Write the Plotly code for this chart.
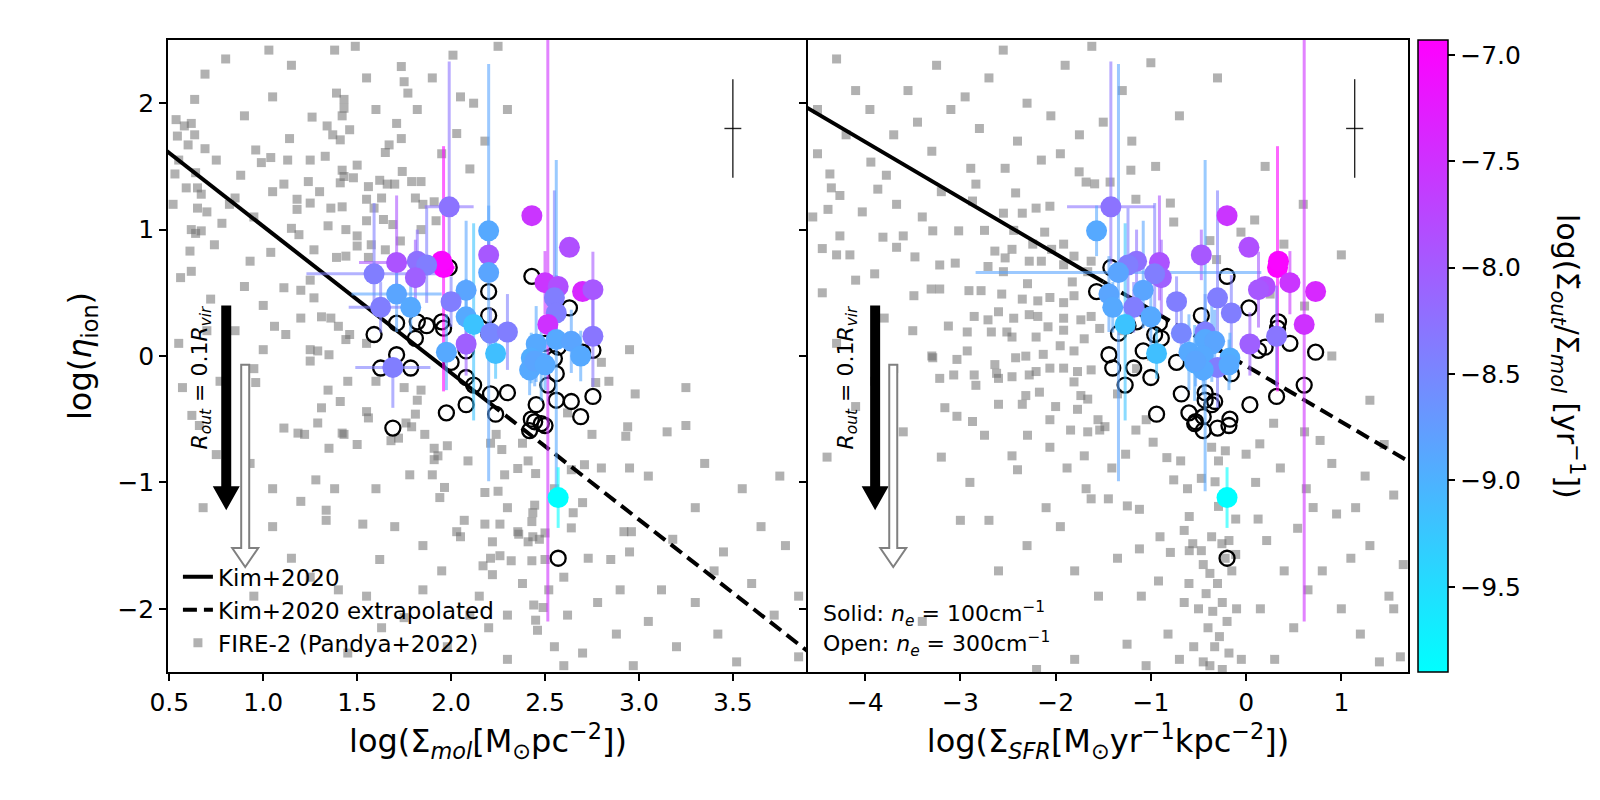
import plotly.graph_objects as go
from plotly.subplots import make_subplots

# ---- colour scale limits (cool colormap) ----
c_min, c_max = -9.9, -6.93

# ---- observed regions: same y for both panels ----
pt_mol_x = [1.99, 2.43, 2.20, 2.63, 2.20, 1.96, 1.95, 1.71, 1.82, 1.87, 1.81, 1.59, 2.20, 2.50, 2.57,
            2.70, 2.755, 1.71, 2.08, 2.00, 2.55, 2.56, 1.625, 1.785, 2.08, 2.12, 2.515, 2.21, 2.30, 2.755,
            2.08, 1.975, 2.237, 2.453, 2.56, 2.64, 2.69, 2.427, 2.48, 1.69, 2.418, 2.445, 2.50, 2.57]
pt_sfr_x = [-1.42, -0.20, -1.57, 0.03, -0.47, 0.33, 0.34, -0.91, -1.15, -1.24, -0.89, -0.96, -1.34, 0.46, 0.20,
            0.73, 0.13, -1.44, -1.08, -0.73, -0.30, -0.155, -1.18, -1.40, -1.00, -1.27, 0.61, -0.68, -0.43, 0.32,
            0.04, -0.60, -0.94, -0.36, -0.43, -0.33, -0.45, -0.17, -0.54, -0.30, -0.45, -0.53, -0.18, -0.20]
pt_y = [1.18, 1.11, 0.99, 0.86, 0.80, 0.70, 0.75, 0.74, 0.75, 0.72, 0.62, 0.65, 0.66, 0.58, 0.55,
        0.51, 0.525, 0.49, 0.52, 0.43, 0.46, 0.34, 0.385, 0.385, 0.31, 0.25, 0.25, 0.18, 0.19, 0.156,
        0.095, 0.03, 0.02, 0.095, 0.13, 0.116, 0.0, -0.016, -0.055, -0.09, -0.11, -0.04, -0.07, -1.12]
pt_c = [-8.27, -7.55, -8.9, -7.85, -7.95, -6.95, -7.0, -7.9, -8.25, -8.4, -8.05, -8.4, -8.85, -7.55, -7.85,
        -7.4, -7.95, -8.85, -8.85, -8.4, -8.4, -8.4, -8.4, -8.9, -8.9, -9.2, -7.5, -8.5, -8.4, -8.3,
        -8.05, -8.9, -9.15, -8.9, -8.9, -8.85, -8.9, -8.95, -8.95, -8.4, -8.9, -8.85, -8.9, -9.9]
pt_ey_up = [1.15, 0, 0.2, 0, 0.2, 0.96, 0, 0.53, 0.25, 0.45, 0.3, 0.56, 1.65, 0.25, 0,
            0, 0.3, 0.3, 0.55, 0.2, 0.85, 0.3, 0.2, 0.2, 0.3, 0.8, 2.25, 0.2, 0.3, 0.4,
            0.25, 0.3, 0.2, 0.3, 1.42, 0.25, 0.2, 0.2, 0.3, 0.0, 0.2, 0.2, 0.2, 0.24]
pt_ey_dn = [0.45, 0, 0.2, 0, 0.2, 0.98, 0, 0.3, 0.2, 0.3, 0.3, 0.3, 1.65, 0.25, 0,
            0, 0.3, 0.3, 0.3, 0.2, 0.3, 0.3, 0.2, 0.2, 0.3, 0.76, 2.35, 0.2, 0.3, 0.4,
            0.25, 0.3, 0.2, 0.3, 1.2, 0.25, 0.2, 0.2, 0.3, 0.32, 0.2, 0.2, 0.2, 0.24]
pt_ex_mol = [0.13, 0, 0, 0, 0.05, 0.06, 0, 0.2, 0, 0, 0, 0.36, 0, 0, 0,
             0, 0, 0.24, 0, 0, 0, 0, 0.17, 0, 0, 0, 0, 0, 0, 0,
             0, 0, 0, 0, 0, 0, 0, 0, 0, 0.2, 0, 0, 0, 0]
pt_ex_sfr = [0.46, 0, 0, 0, 0, 0, 0, 0, 0, 0, 0, 0, 1.5, 0, 0,
             0, 0, 0, 0, 0, 0, 0, 0, 0, 0, 0, 0, 0, 0, 0,
             0, 0, 0, 0, 0, 0, 0, 0, 0, 0, 0, 0, 0, 0]
# open circles (n_e = 300 cm^-1)
open_y = [0.70, 0.63, 0.51, 0.38, 0.32, 0.22, 0.27, 0.26, 0.27, 0.24, 0.14, 0.17, 0.18, 0.10, 0.07,
          0.03, 0.045, 0.01, 0.04, -0.05, -0.02, -0.14, -0.095, -0.095, -0.17, -0.23, -0.23, -0.30, -0.29, -0.32,
          -0.385, -0.45, -0.46, -0.385, -0.35, -0.36, -0.48, -0.50, -0.535, -0.57, -0.59, -0.52, -0.55, -1.60]

# ---- Kim+2020 relations ----
kim_mol_x = [0.40, 2.20]
kim_mol_y = [1.722, -0.366]
kim_mol_ext_x = [2.20, 4.00]
kim_mol_ext_y = [-0.366, -2.454]
kim_sfr_x = [-4.70, -1.50]
kim_sfr_y = [2.004, 0.587]
kim_sfr_ext_x = [-1.50, 1.80]
kim_sfr_ext_y = [0.587, -0.875]

# representative error bar (top right of each panel)
rep_mol = dict(x=[3.5], y=[1.8], ex=[0.045], ey_up=[0.39], ey_dn=[0.39])
rep_sfr = dict(x=[1.14], y=[1.8], ex=[0.09], ey_up=[0.39], ey_dn=[0.39])

# ---- FIRE-2 (Pandya+2022) ----
fire_mol_pts = [
    (0.69, 2.23), (0.635, 2.03), (0.536, 1.87), (0.58, 1.82), (0.617, 1.84), (0.543, 1.74), (0.635, 1.75),
    (0.60, 1.67), (0.69, 1.64), (0.53, 1.44), (0.64, 1.45), (0.59, 1.33), (0.65, 1.33), (0.67, 1.28),
    (0.65, 1.17), (0.70, 1.14), (0.617, 1.0), (0.67, 0.99), (0.64, 0.97), (0.74, 0.88), (0.61, 0.83),
    (0.617, 0.67), (1.03, 2.42), (1.05, 2.05), (1.38, 2.42), (1.49, 2.45), (1.39, 2.08), (1.43, 2.03),
    (1.43, 1.96), (1.42, 1.90), (1.26, 1.89), (1.34, 1.82), (1.37, 1.75), (1.41, 1.71), (1.46, 1.79),
    (1.14, 1.72), (0.96, 1.63), (1.04, 1.57), (0.99, 1.53), (0.88, 1.43), (1.13, 1.55), (1.25, 1.55),
    (1.33, 1.58), (1.42, 1.47), (1.50, 1.51), (1.43, 1.42), (1.48, 1.41), (1.41, 1.37), (1.24, 1.38),
    (1.11, 1.36), (1.30, 1.30), (1.18, 1.24), (1.18, 1.16), (1.25, 1.21), (1.345, 1.03), (1.15, 1.01),
    (1.19, 0.96), (1.44, 1.0), (1.36, 1.17), (1.42, 1.18), (1.27, 0.84), (1.39, 0.78), (1.44, 0.79),
    (1.04, 0.82), (0.93, 0.75), (1.50, 0.95), (1.56, 1.34), (1.62, 1.39), (1.66, 1.36), (1.70, 1.36),
    (1.65, 1.61), (1.67, 1.67), (1.735, 1.72), (1.74, 1.46), (1.79, 1.38), (1.84, 1.38), (1.71, 1.84),
    (1.735, 2.29), (1.75, 2.17), (1.77, 2.08), (1.82, 1.95), (2.03, 1.76), (2.01, 2.38), (2.12, 2.0),
    (2.18, 1.70), (1.55, 1.24), (1.63, 1.25), (1.59, 1.17), (1.55, 1.07), (1.64, 1.08), (1.69, 1.04),
    (1.81, 1.25), (1.85, 1.20), (1.91, 1.22), (1.92, 1.07), (1.84, 1.0), (1.575, 0.88), (1.50, 0.87),
    (1.56, 0.78), (1.65, 0.84), (1.73, 0.91),
    (1.11, 0.54), (1.20, 0.52), (1.25, 0.60), (1.27, 0.46), (1.06, 0.235), (1.12, 0.17), (0.77, -0.2),
    (0.96, -0.21), (0.95, -0.1), (1.25, 0.05), (1.29, 0.04), (1.25, -0.04), (1.35, 0.01), (1.36, 0.30),
    (1.40, 0.235), (1.44, 0.13), (1.46, 0.17), (1.31, 0.31), (1.31, -0.41), (1.345, -0.27), (1.45, -0.20),
    (1.41, -0.36), (1.55, -0.44), (1.56, -0.49), (1.11, -0.57), (1.185, -0.61), (1.35, -0.73), (1.42, -0.61),
    (1.29, -0.53), (1.76, -0.53), (1.79, -0.56), (1.81, -0.46), (1.84, -0.27), (1.75, -0.25), (1.82, -0.35),
    (1.86, -0.62), (1.72, -0.65), (1.68, -0.67), (1.91, -0.73), (1.98, -0.71), (1.93, -0.79), (2.09, -0.83),
    (2.24, -0.62), (2.21, -0.69), (2.27, -0.74), (2.38, -0.69), (2.355, -0.89), (2.45, -0.93), (2.64, -0.90),
    (2.71, -0.86), (2.80, -0.886), (2.84, -0.20), (2.77, -0.21), (2.94, -0.56), (2.93, -0.635), (2.95, -0.886),
    (2.92, -1.39), (2.96, -1.39), (2.95, -1.55), (2.85, -1.61), (2.73, -1.60), (2.70, -1.16), (2.65, -1.24),
    (2.64, -1.36), (2.445, -1.18), (2.435, -1.24), (2.43, -1.31), (2.435, -1.43), (2.50, -1.40), (2.47, -1.45),
    (2.41, -1.47), (2.355, -1.39), (2.22, -1.47), (2.26, -1.33), (2.18, -1.33), (2.07, -1.30), (2.03, -1.39),
    (1.94, -1.12), (1.965, -1.04), (1.91, -0.82), (2.18, -1.08), (2.25, -1.07), (2.285, -0.94), (2.41, -0.83),
    (1.78, -0.94), (1.90, -0.94), (1.53, -1.33), (1.335, -1.22), (1.335, -1.30), (1.62, -1.61), (1.43, -0.62),
    (1.22, -0.62), (1.50, -0.70),
    (2.05, -1.43), (2.21, -1.60), (2.26, -1.58), (2.17, -1.66), (2.32, -1.62), (2.22, -1.73), (2.36, -1.41),
    (2.44, -1.97), (2.45, -2.09), (2.46, -2.17), (2.49, -1.99), (1.75, -2.07), (1.63, -2.15), (2.5, -1.61),
    (2.43, -1.62),
    (0.57, -0.25), (0.66, -0.55), (0.93, -0.85), (1.05, -1.05), (1.2, -1.15), (1.28, -0.98), (1.25, -1.75),
    (1.4, -1.85), (1.55, -1.9), (1.85, -1.85), (1.98, -2.3), (2.1, -2.05), (2.2, -2.15), (2.3, -2.4),
    (2.38, -1.8), (2.52, -1.85), (2.55, -2.3), (2.62, -2.05), (2.7, -2.35), (2.78, -1.95), (2.88, -2.2),
    (2.97, -2.45), (3.05, -2.1), (3.12, -1.85), (3.2, -2.3), (3.3, -1.95), (3.42, -2.2), (3.52, -2.42),
    (3.6, -1.8), (3.72, -2.05), (3.85, -2.38), (3.78, -1.5), (3.65, -1.35), (3.45, -1.55), (3.3, -1.2),
    (3.18, -1.45), (3.05, -0.95), (3.15, -0.6), (3.35, -0.85), (2.98, -0.3), (3.25, -0.25), (2.62, -0.45),
    (2.75, -0.62), (0.72, 0.45), (0.85, 0.2), (0.55, 0.1), (1.0, 0.4), (0.78, 1.05), (0.85, 1.25), (0.56, 0.62),
    (1.15, 2.3), (1.55, 2.2), (1.6, 1.95), (1.9, 2.2), (2.05, 2.05), (2.25, 2.45), (2.3, 1.95), (1.95, 1.6),
    (2.1, 1.48), (0.8, 2.35), (0.9, 1.9), (0.75, 1.55), (0.82, 1.2), (0.95, 1.1), (1.05, 1.3), (0.55, 1.55),
    (0.52, 1.2), (0.9, 0.55), (0.7, 0.2), (0.62, -0.47), (0.75, -0.78), (1.05, -1.35), (1.15, -1.6),
    (0.95, -1.9), (0.68, -1.2), (1.38, -1.05), (1.6, -1.05), (1.7, -1.35), (1.85, -1.5), (1.95, -1.7),
    (2.15, -1.9), (2.3, -2.05), (2.6, -1.75), (2.9, -1.85), (3.4, -1.7), (3.55, -1.05), (3.75, -0.95),
    (3.25, -0.55), (2.95, 0.05), (2.8, -0.05), (1.6, -0.2), (1.55, 0.1), (1.2, 0.3), (1.0, 0.05),
    (2.3, -1.2), (2.55, -1.05), (2.6, -2.45), (1.45, -2.35), (3.85, -1.9),
]
fire_sfr_pts = [
    (-3.94, 1.534), (-4.37, 1.44), (-4.355, 1.33), (-4.265, 1.27), (-4.39, 1.16), (-4.03, 1.14), (-3.777, 1.43),
    (-3.867, 1.32), (-3.67, 1.20), (-3.813, 0.94), (-3.67, 0.86), (-4.265, 0.95), (-4.30, 0.80), (-4.16, 0.80),
    (-3.477, 0.784), (-3.29, 0.99), (-3.018, 0.99), (-3.217, 0.72), (-3.054, 0.735), (-3.307, 0.53),
    (-3.488, 0.477), (-3.217, 0.53), (-3.126, 0.237), (-2.91, 0.517), (-2.873, 1.226), (-2.837, 1.36),
    (-2.891, 1.485), (-2.53, 1.485), (-2.548, 1.13), (-2.42, 1.29), (-2.35, 1.13), (-2.44, 0.994),
    (-2.747, 0.994), (-2.638, 0.83), (-2.458, 0.844), (-2.53, 0.776), (-2.277, 0.75), (-2.15, 0.75),
    (-2.24, 0.885), (-2.71, 0.708), (-2.548, 0.667), (-2.783, 0.517), (-2.566, 0.49), (-2.295, 0.572),
    (-2.187, 0.436), (-2.06, 0.463), (-1.916, 0.422), (-1.807, 0.477), (-1.825, 0.586), (-1.916, 0.722),
    (-2.042, 0.844), (-2.115, 0.98), (-1.916, 0.885), (-1.807, 0.79), (-1.663, 0.667), (-1.627, 0.75),
    (-2.205, 1.17), (-2.06, 1.185), (-1.753, 1.457), (-1.68, 1.376), (-1.59, 1.362), (-1.428, 1.376),
    (-1.21, 1.47), (-1.157, 1.24), (-0.795, 1.21), (-0.76, 1.06), (-0.38, 0.913), (-0.31, 0.763),
    (-2.855, 0.313), (-2.71, 0.286), (-2.675, 0.19), (-2.928, 0.19), (-2.512, 0.19), (-2.44, 0.299),
    (-2.277, 0.327), (-2.187, 0.313), (-2.458, 0.15), (-2.205, 0.15), (-2.08, 0.231), (-1.916, 0.299),
    (-1.916, 0.204), (-1.735, 0.286), (-1.7, 0.136), (-1.627, 0.313), (-1.537, 0.218), (-1.807, 0.04),
    (-1.952, 0.081), (-2.13, 0.013), (-2.313, -0.001), (-2.42, -0.014), (-2.638, -0.068), (-2.62, -0.137),
    (-2.855, -0.15), (-3.07, -0.15), (-3.217, -0.177), (-3.29, -0.014), (-3.036, -0.027), (-2.928, 0.04),
    (-2.6, -0.177), (-2.458, -0.164), (-2.277, -0.15), (-2.205, -0.123), (-2.06, -0.096), (-1.916, -0.096),
    (-1.77, -0.123), (-1.627, -0.11), (-1.735, -0.313), (-1.663, -0.341), (-1.77, -0.422), (-1.843, -0.586),
    (-1.663, -0.6), (-1.555, -0.504), (-1.537, -0.586), (-1.807, -0.205), (-2.17, -0.286), (-2.313, -0.313),
    (-2.35, -0.382), (-2.6, -0.382), (-2.837, -0.232), (-3.163, -0.409), (-3.036, -0.477), (-2.873, -0.518),
    (-2.747, -0.627), (-2.458, -0.79), (-2.295, -0.627), (-2.06, -0.504), (-1.699, -0.79), (-1.88, -0.886),
    (-2.06, -0.722), (-1.68, -1.05), (-1.627, -1.13), (-1.41, -0.886), (-1.265, -0.777), (-1.157, -0.586),
    (-0.976, -0.682), (-1.049, -0.504), (-0.832, -0.804), (-0.76, -0.98), (-0.615, -1.05), (-0.597, -1.27),
    (-0.65, -1.38), (-0.56, -1.485), (-0.47, -1.54), (-0.597, -1.54), (-0.362, -1.43), (-0.254, -1.485),
    (-0.18, -1.46), (-0.109, -1.29), (-0.29, -1.19), (-0.326, -0.995), (-0.29, -0.83), (-0.362, -0.722),
    (-0.218, -0.75), (-0.47, -0.968), (-0.687, -0.83), (-1.12, -1.213), (-0.904, -1.43), (-1.12, -1.526),
    (-0.795, -1.554), (0.0, -0.777), (0.144, -0.695), (0.289, -0.532), (0.36, -0.886), (0.541, -1.363),
    (0.704, -1.199), (0.632, -1.05), (0.777, -0.668), (0.614, -0.6), (0.126, -1.29), (0.216, -1.46),
    (-0.109, -1.57), (0.09, 1.076), (-0.054, 0.98), (0.397, 0.885), (0.253, 0.49), (0.614, 0.395),
    (-1.446, -1.13), (-1.247, -1.186), (-1.482, -0.559), (-0.994, -0.001),
    (-0.45, -1.65), (-0.38, -1.72), (-0.3, -1.8), (-0.42, -1.88), (-0.25, -1.95), (-0.35, -2.02), (-0.2, -2.1),
    (-0.4, -2.15), (-0.28, -2.22), (-0.33, -2.3), (-0.18, -2.35), (-0.45, -2.42), (-0.25, -2.48), (-0.5, -2.0),
    (-0.15, -1.7), (-0.6, -1.8), (-0.55, -2.3), (-0.1, -2.0), (-0.05, -2.4),
    (-1.55, -1.9), (-1.25, -2.28), (-0.92, -1.78), (-0.82, -2.2), (-1.05, -2.45), (-1.8, -2.4), (-2.2, -2.48),
    (-3.4, -2.1), (-2.6, -1.7), (-3.0, -1.3), (-2.1, -1.2), (-2.4, -0.9), (-3.6, -0.6), (-3.9, -0.2),
    (-4.3, 0.1), (-4.45, 0.5), (-3.8, 0.3),
    (0.8, -1.7), (1.0, -2.0), (1.2, -2.2), (1.4, -2.42), (1.62, -2.38), (0.5, -2.15), (0.3, -2.4), (1.3, -1.5),
    (1.5, -1.9), (1.55, -1.1), (1.25, -0.95), (0.95, -1.25), (1.1, -1.6), (0.65, -1.85), (0.15, -2.0),
    (1.65, -1.65), (0.9, -0.85), (1.45, -0.7),
    (-4.3, 2.35), (-3.95, 1.95), (-3.55, 2.1), (-3.25, 2.3), (-2.8, 1.8), (-2.55, 2.42), (-2.3, 2.0),
    (-2.05, 1.9), (-1.9, 2.3), (-1.62, 2.45), (-1.3, 2.1), (-1.0, 2.32), (-4.2, 1.75), (-3.3, 1.62),
    (-2.95, 2.05), (-4.5, 1.6), (-1.75, 1.75), (-0.7, 1.9), (-0.3, 2.2), (0.2, 1.5), (0.6, 1.2), (1.0, 0.8),
    (1.4, 0.3), (0.9, 0.0), (1.3, -0.35),
    (-4.5, 1.95), (-4.1, 2.1), (-3.7, 1.75), (-3.45, 1.85), (-3.1, 1.95), (-2.7, 2.2), (-2.4, 1.7),
    (-2.15, 1.55), (-1.95, 1.6), (-1.5, 1.85), (-1.2, 1.7), (-0.95, 1.5), (-4.55, 1.1), (-4.45, 0.85),
    (-4.1, 0.6), (-3.9, 0.65), (-3.6, 0.95), (-3.4, 1.1), (-3.2, 1.3), (-3.5, 0.2), (-3.3, 0.0), (-3.7, -0.1),
    (-4.1, -0.4), (-4.4, -0.8), (-3.2, -0.8), (-2.9, -1.0), (-2.7, -1.3), (-2.3, -1.5), (-1.95, -1.35),
    (-1.8, -1.7), (-1.35, -1.6), (-1.1, -1.9), (-0.7, -2.4), (-0.65, -1.95), (-0.22, -1.6), (-0.38, -2.45),
    (0.4, -1.7), (0.1, -1.0), (1.55, -2.0), (1.15, -1.2), (-2.0, -0.4), (-1.35, -0.3), (-1.15, -0.1),
    (-1.3, 0.2), (-2.35, 0.45), (-2.6, 0.35),
]

FONT = "DejaVu Sans"
ERR_ALPHA = 0.6


def cool(v, alpha=1.0):
    f = (v - c_min) / (c_max - c_min)
    f = min(max(f, 0.0), 1.0)
    return f"rgba({round(255 * f)},{round(255 * (1 - f))},255,{alpha})"


def arrow_path(xc, ytop, ytip, sx, sy, shaft, head_w, head_l):
    """Closed arrow outline in data units; sizes given in pixels."""
    hw, hh, yb = shaft / 2 / sx, head_w / 2 / sx, ytip + head_l / sy
    pts = [(xc - hw, ytop), (xc + hw, ytop), (xc + hw, yb), (xc + hh, yb),
           (xc, ytip), (xc - hh, yb), (xc - hw, yb)]
    return "M " + " L ".join(f"{x:.4f},{y:.4f}" for x, y in pts) + " Z"


fig = make_subplots(rows=1, cols=2, shared_yaxes=True, horizontal_spacing=0,
                    column_widths=[640, 600])

panels = [
    (1, pt_mol_x, pt_ex_mol, fire_mol_pts, (kim_mol_x, kim_mol_y), (kim_mol_ext_x, kim_mol_ext_y), rep_mol),
    (2, pt_sfr_x, pt_ex_sfr, fire_sfr_pts, (kim_sfr_x, kim_sfr_y), (kim_sfr_ext_x, kim_sfr_ext_y), rep_sfr),
]

for col, px, pex, fire, kim, kim_ext, rep in panels:
    first = col == 1
    fx, fy = zip(*fire)
    fig.add_trace(go.Scatter(
        x=fx, y=fy, mode="markers", name="FIRE-2 (Pandya+2022)", showlegend=first, legendrank=3,
        marker=dict(symbol="square", size=9, color="rgba(105,105,105,0.52)", line=dict(width=0)),
    ), row=1, col=col)
    fig.add_trace(go.Scatter(
        x=kim[0], y=kim[1], mode="lines", name="Kim+2020", showlegend=first, legendrank=1,
        line=dict(color="black", width=4),
    ), row=1, col=col)
    fig.add_trace(go.Scatter(
        x=kim_ext[0], y=kim_ext[1], mode="lines", name="Kim+2020 extrapolated", showlegend=first,
        legendrank=2, line=dict(color="black", width=4, dash="14px,7px"),
    ), row=1, col=col)
    # open circles
    fig.add_trace(go.Scatter(
        x=px, y=open_y, mode="markers", showlegend=False,
        marker=dict(symbol="circle-open", size=15, color="black", line=dict(width=2.3)),
    ), row=1, col=col)
    # error bars, one trace per region so each gets its own colour
    for i in range(len(pt_y)):
        if pt_ey_up[i] == 0 and pt_ey_dn[i] == 0 and pex[i] == 0:
            continue
        col_err = cool(pt_c[i], ERR_ALPHA)
        fig.add_trace(go.Scatter(
            x=[px[i]], y=[pt_y[i]], mode="markers", showlegend=False, hoverinfo="skip",
            marker=dict(size=1, opacity=0),
            error_y=dict(type="data", symmetric=False, array=[pt_ey_up[i]], arrayminus=[pt_ey_dn[i]],
                         color=col_err, thickness=3, width=0, visible=True),
            error_x=dict(type="data", array=[pex[i]], color=col_err, thickness=3, width=0,
                         visible=pex[i] > 0),
        ), row=1, col=col)
    # filled circles coloured by outflow rate
    fig.add_trace(go.Scatter(
        x=px, y=pt_y, mode="markers", showlegend=False,
        marker=dict(
            size=21, color=pt_c, colorscale=[[0, "#00ffff"], [1, "#ff00ff"]], cmin=c_min, cmax=c_max,
            line=dict(width=0), showscale=not first,
            colorbar=dict(
                x=1.008, xanchor="left", xpad=0, ypad=0, y=0.5, yanchor="middle", len=1,
                thickness=30, outlinewidth=1.5, outlinecolor="black",
                tickvals=[-7.0, -7.5, -8.0, -8.5, -9.0, -9.5], tickformat=".1f",
                ticks="outside", ticklen=7, tickwidth=1.5, tickcolor="black",
                tickfont=dict(family=FONT, size=25, color="black"),
            ),
        ),
    ), row=1, col=col)
    # representative uncertainty
    fig.add_trace(go.Scatter(
        x=rep["x"], y=rep["y"], mode="markers", showlegend=False, hoverinfo="skip",
        marker=dict(size=1, opacity=0),
        error_y=dict(type="data", symmetric=False, array=rep["ey_up"], arrayminus=rep["ey_dn"],
                     color="rgba(0,0,0,0.85)", thickness=1.4, width=0),
        error_x=dict(type="data", array=rep["ex"], color="rgba(0,0,0,0.85)", thickness=1.4, width=0),
    ), row=1, col=col)

axis_style = dict(showline=True, linecolor="black", linewidth=1.5, mirror=True, ticks="outside",
                  ticklen=7, tickwidth=1.5, tickcolor="black", showgrid=False, zeroline=False,
                  tickfont=dict(family=FONT, size=25, color="black"))
title_font = dict(family=FONT, size=32, color="black")

fig.update_xaxes(axis_style)
fig.update_yaxes(axis_style)
fig.update_xaxes(range=[0.493, 3.9], tickvals=[0.5, 1.0, 1.5, 2.0, 2.5, 3.0, 3.5], tickformat=".1f",
                 title=dict(text="log(Σ<sub><i>mol</i></sub>[M<sub>⊙</sub>pc<sup>−2</sup>])",
                            font=title_font, standoff=14), row=1, col=1)
fig.update_xaxes(range=[-4.6, 1.7], tickvals=[-4, -3, -2, -1, 0, 1],
                 title=dict(text="log(Σ<sub><i>SFR</i></sub>[M<sub>⊙</sub>yr<sup>−1</sup>kpc<sup>−2</sup>])",
                            font=title_font, standoff=14), row=1, col=2)
fig.update_yaxes(range=[-2.5, 2.5], tickvals=[-2, -1, 0, 1, 2])
# left panel: no mirrored line (the right panel's axis line is the shared border)
fig.update_yaxes(mirror=False, title=dict(text="log(<i>η</i><sub>ion</sub>)", font=title_font, standoff=16),
                 row=1, col=1)
fig.update_yaxes(showticklabels=False, row=1, col=2)

# outflow-radius arrows (solid: black, open: grey outline)
arrows = [("x", "y", 0.803, 0.904, 187.9), ("x2", "y2", -3.895, -3.705, 95.3)]
shapes = []
for xr, yr, xb, xo, sx in arrows:
    shapes.append(dict(type="path", xref=xr, yref=yr, line=dict(width=0), fillcolor="black",
                       path=arrow_path(xb, 0.40, -1.22, sx, 126.4, 10, 27, 24)))
    shapes.append(dict(type="path", xref=xr, yref=yr, line=dict(color="#808080", width=2),
                       fillcolor="white", path=arrow_path(xo, -0.07, -1.67, sx, 126.4, 8, 26, 19)))

rout = "<i>R</i><sub><i>out</i></sub> = 0.1<i>R</i><sub><i>vir</i></sub>"
small = dict(family=FONT, size=22, color="black")
annotations = [
    dict(x=0.669, y=-0.17, xref="x", yref="y", text=rout, textangle=-90, showarrow=False, font=small),
    dict(x=-4.19, y=-0.17, xref="x2", yref="y2", text=rout, textangle=-90, showarrow=False, font=small),
    dict(x=0.022, y=0.092, xref="x2 domain", yref="paper", xanchor="left", yanchor="middle",
         text="Solid: <i>n</i><sub><i>e</i></sub> = 100cm<sup>−1</sup>", showarrow=False, font=small),
    dict(x=0.022, y=0.045, xref="x2 domain", yref="paper", xanchor="left", yanchor="middle",
         text="Open: <i>n</i><sub><i>e</i></sub> = 300cm<sup>−1</sup>", showarrow=False, font=small),
    dict(x=1.148, y=0.5, xref="paper", yref="paper", textangle=90, showarrow=False,
         font=dict(family=FONT, size=30, color="black"),
         text="log(Σ̇<sub><i>out</i></sub>/Σ<sub><i>mol</i></sub> [yr<sup>−1</sup>])"),
]

fig.update_layout(
    width=1600, height=800,
    margin=dict(l=160, r=200, t=32, b=136),
    paper_bgcolor="white", plot_bgcolor="white",
    font=dict(family=FONT, color="black"),
    shapes=shapes, annotations=annotations,
    legend=dict(x=0.008, y=0.012, xanchor="left", yanchor="bottom", bgcolor="rgba(0,0,0,0)",
                font=dict(family=FONT, size=23, color="black"), tracegroupgap=0, itemwidth=30),
)

fig.write_html("out.html")
